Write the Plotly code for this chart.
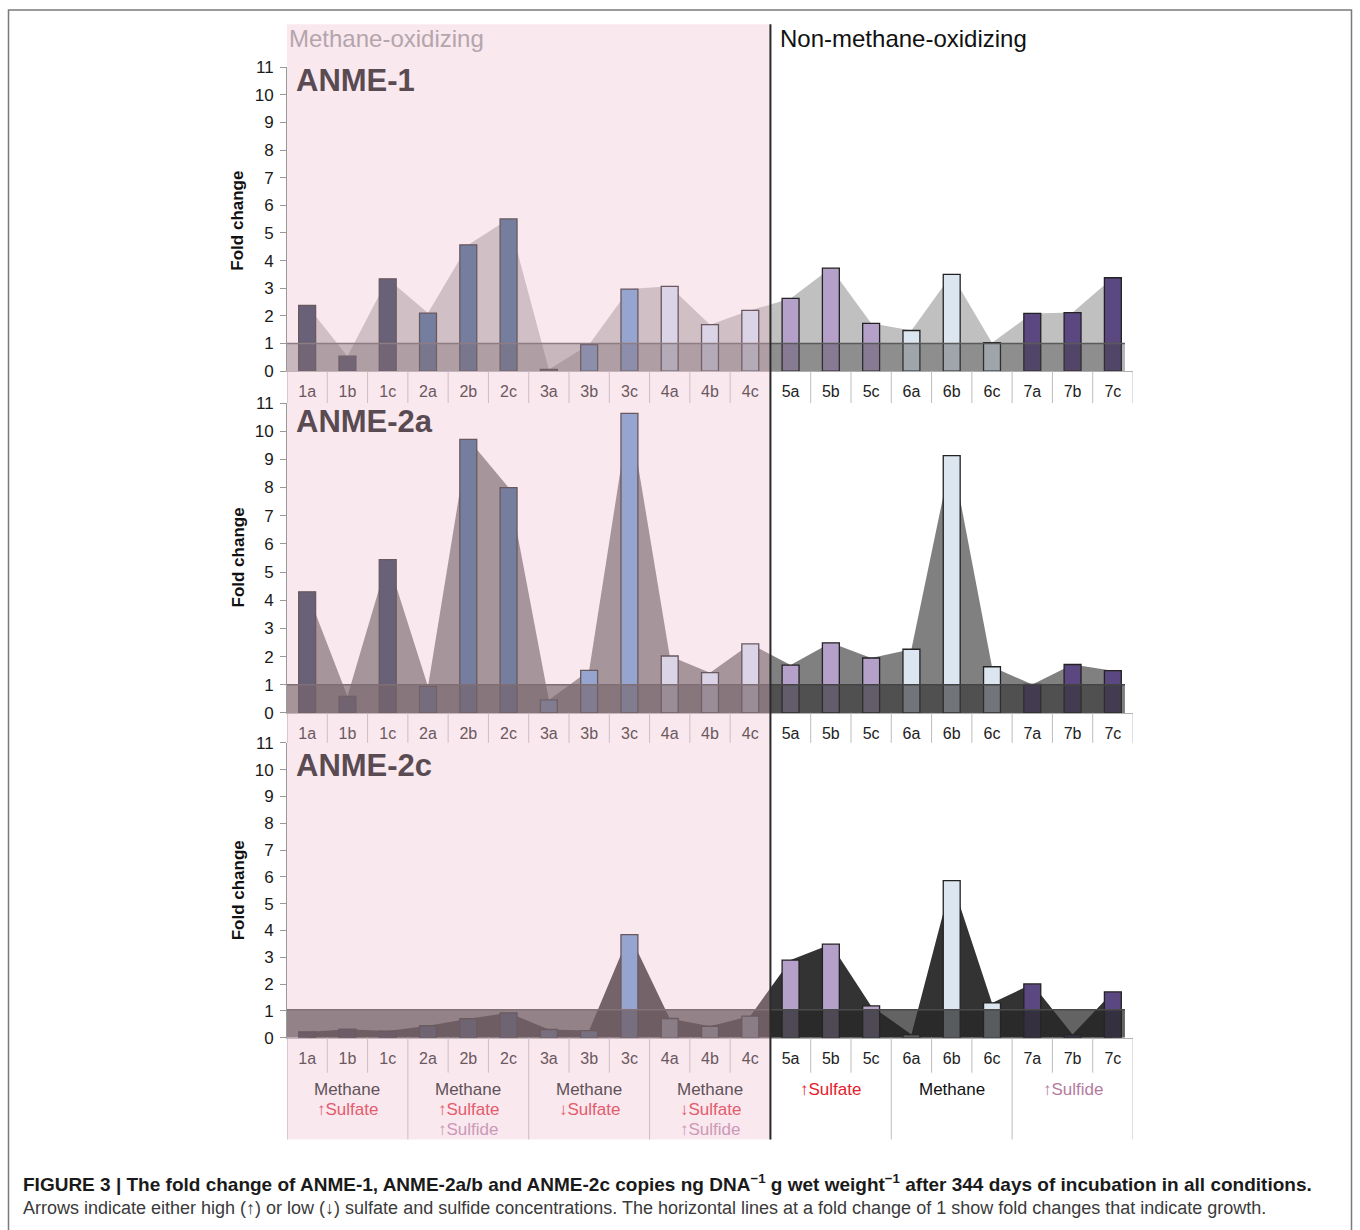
import plotly.graph_objects as go

W, H = 1360, 1230

# ---------------- data ----------------
categories = ["1a", "1b", "1c", "2a", "2b", "2c", "3a", "3b", "3c", "4a", "4b", "4c",
              "5a", "5b", "5c", "6a", "6b", "6c", "7a", "7b", "7c"]
anme1 = [2.38, 0.54, 3.34, 2.10, 4.57, 5.51, 0.06, 0.96, 2.97, 3.07, 1.68, 2.20,
         2.63, 3.73, 1.73, 1.47, 3.50, 1.03, 2.09, 2.12, 3.38]
anme2a = [4.30, 0.59, 5.44, 0.94, 9.71, 8.00, 0.46, 1.51, 10.63, 2.02, 1.43, 2.45,
          1.70, 2.49, 1.95, 2.26, 9.13, 1.64, 1.01, 1.72, 1.50]
anme2c = [0.22, 0.32, 0.25, 0.45, 0.71, 0.93, 0.31, 0.27, 3.85, 0.72, 0.43, 0.81,
          2.90, 3.49, 1.19, 0.12, 5.86, 1.30, 2.01, 0.12, 1.71]
panel_titles = ["ANME-1", "ANME-2a", "ANME-2c"]
growth_line = [1.0, 1.0, 1.05]
y_ticks = list(range(0, 12))
group_line1 = ["Methane", "Methane", "Methane", "Methane", "↑Sulfate", "Methane", "↑Sulfide"]
group_line2 = ["↑Sulfate", "↑Sulfate", "↓Sulfate", "↓Sulfate", "", "", ""]
group_line3 = ["", "↑Sulfide", "", "↑Sulfide", "", "", ""]
region_labels = ["Methane-oxidizing", "Non-methane-oxidizing"]
caption1 = ("FIGURE 3 | The fold change of ANME-1, ANME-2a/b and ANME-2c copies ng DNA<sup>−1</sup> "
            "g wet weight<sup>−1</sup> after 344 days of incubation in all conditions.")
caption2 = ("Arrows indicate either high (↑) or low (↓) sulfate and sulfide concentrations. "
            "The horizontal lines at a fold change of 1 show fold changes that indicate growth.")

# ---------------- styles ----------------
FONT = "Liberation Sans, Arial, sans-serif"
group_colors = ["#23314a", "#365c87", "#6798d1", "#cfe0f3", "#b4a0c8", "#dce6f0", "#5c4880"]
area_fill = ["#c0c0c0", "#808080", "#333333"]
band_fill = ["rgba(67,67,67,0.40)", "rgba(53,53,53,0.64)", "rgba(39,39,39,0.72)"]
band_line = ["#5a5a5a", "#444444", "#4a4a4a"]
overlay = "rgba(238,189,206,0.35)"
# layout geometry in target pixels: (top = value 11, bottom = value 0)
panel_px = [(66, 371), (403, 714), (744, 1040)]
label_row_px = [403, 744, 1075]
title_px = [79, 422, 767]
ytitle_px = [220, 558, 892]
x_left_px, x_right_px = 287, 1133


def px_x(p):
    return p / W


def px_y(p):
    # calibrated against the photographed page
    return 1 - ((p - 7.6) / 0.988) / H


series = [anme1, anme2a, anme2c]
bar_colors = [group_colors[int(c[0]) - 1] for c in categories]

fig = go.Figure()
shapes = []
annotations = []
n = len(categories)

for i, vals in enumerate(series):
    xa = "x" if i == 0 else f"x{i+1}"
    ya = "y" if i == 0 else f"y{i+1}"
    xb, yb = f"x{i+4}", f"y{i+4}"
    # area behind (base subplot)
    fig.add_trace(go.Scatter(x=categories, y=vals, mode="none", fill="tozeroy",
                             fillcolor=area_fill[i], xaxis=xa, yaxis=ya,
                             hoverinfo="skip", showlegend=False))
    # bars in front (overlaying subplot)
    fig.add_trace(go.Bar(x=categories, y=vals, width=0.42, xaxis=xb, yaxis=yb,
                         marker=dict(color=bar_colors, line=dict(color="#222222", width=1.3)),
                         hoverinfo="skip", showlegend=False))

    top, bot = panel_px[i]
    dom = [px_y(bot), px_y(top)]
    xdom = [px_x(x_left_px), px_x(x_right_px)]
    fig.layout[("xaxis" if i == 0 else f"xaxis{i+1}")] = dict(
        type="category", categoryorder="array", categoryarray=categories,
        range=[-0.5, n - 0.5], domain=xdom,
        anchor=ya, showline=True, linecolor="#b0b0b0", linewidth=1, ticks="",
        showgrid=False, zeroline=False, fixedrange=True,
        tickfont=dict(family=FONT, size=16, color="#222222"), ticklabelstandoff=6)
    fig.layout[("yaxis" if i == 0 else f"yaxis{i+1}")] = dict(
        range=[0, 11], domain=dom, anchor=xa, tickvals=y_ticks, ticks="outside",
        ticklen=6, tickcolor="#999999", showline=True, linecolor="#999999", linewidth=1,
        showgrid=False, zeroline=False, fixedrange=True,
        tickfont=dict(family=FONT, size=17, color="#1a1a1a"), ticklabelstandoff=3)
    fig.layout[f"xaxis{i+4}"] = dict(
        type="category", categoryorder="array", categoryarray=categories,
        range=[-0.5, n - 0.5], domain=xdom, overlaying=xa, anchor=yb,
        visible=False, fixedrange=True)
    fig.layout[f"yaxis{i+4}"] = dict(range=[0, 11], domain=dom, overlaying=ya, anchor=xb,
                                      visible=False, fixedrange=True)

    # growth band 0..1 and line
    shapes.append(dict(type="rect", xref=xa, yref=ya, x0=-0.5, x1=n - 0.7,
                       y0=0, y1=growth_line[i], fillcolor=band_fill[i], line=dict(width=0),
                       layer="above"))
    shapes.append(dict(type="line", xref=xa, yref=ya, x0=-0.5, x1=n - 0.7,
                       y0=growth_line[i], y1=growth_line[i],
                       line=dict(color=band_line[i], width=1.5), layer="above"))

    # category separators in the label row
    for k in range(n + 1):
        end_px = label_row_px[i]
        if i == 2 and k % 3 == 0:
            end_px = 1142
        shapes.append(dict(type="line", xref=xa, yref="paper", x0=k - 0.5, x1=k - 0.5,
                           y0=px_y(bot), y1=px_y(end_px),
                           line=dict(color="#999999" if k == 0 else "#bdbdbd", width=1),
                           layer="above"))

    # panel title
    annotations.append(dict(text=f"<b>{panel_titles[i]}</b>", xref="paper", yref="paper",
                            x=px_x(295), y=px_y(title_px[i]), xanchor="left", yanchor="middle",
                            showarrow=False, borderpad=0,
                            font=dict(family=FONT, size=31, color="#5a4b52")))
    # y title
    annotations.append(dict(text="<b>Fold change</b>", xref="paper", yref="paper",
                            x=px_x(238), y=px_y(ytitle_px[i]), textangle=-90,
                            xanchor="center", yanchor="middle", showarrow=False,
                            font=dict(family=FONT, size=17, color="#111111")))

# pink methane-oxidizing overlay
shapes.append(dict(type="rect", xref="x", yref="paper", x0=-0.5, x1=11.5,
                   y0=px_y(1142), y1=px_y(23), fillcolor=overlay, line=dict(width=0),
                   layer="above"))
# divider
shapes.append(dict(type="line", xref="x", yref="paper", x0=11.5, x1=11.5,
                   y0=px_y(1142), y1=px_y(23), line=dict(color="#2a2a2a", width=2),
                   layer="above"))
# frame
shapes.append(dict(type="rect", xref="paper", yref="paper", x0=px_x(8.5), x1=px_x(1351.5),
                   y0=-0.05, y1=px_y(8.5), line=dict(color="#7a7a7a", width=1.5),
                   fillcolor="rgba(0,0,0,0)", layer="above"))

# region labels
annotations.append(dict(text=region_labels[0], xref="paper", yref="paper", x=px_x(287),
                        y=px_y(37), xanchor="left", yanchor="middle", showarrow=False,
                        font=dict(family=FONT, size=24, color="#b4a5ac")))
annotations.append(dict(text=region_labels[1], xref="paper", yref="paper", x=px_x(778),
                        y=px_y(37), xanchor="left", yanchor="middle", showarrow=False,
                        font=dict(family=FONT, size=24, color="#111111")))


def word_color(word, pink):
    if "Sulfate" in word:
        return "#e55a6c" if pink else "#e4202a"
    if "Sulfide" in word:
        return "#cc98b8" if pink else "#b47ba0"
    return "#5f5259" if pink else "#111111"


for g in range(7):
    pink = g < 4
    for line_txt, ypx in ((group_line1[g], 1092), (group_line2[g], 1112), (group_line3[g], 1132)):
        if not line_txt:
            continue
        annotations.append(dict(text=line_txt, xref="x3", yref="paper", x=3 * g + 1,
                                y=px_y(ypx), xanchor="center", yanchor="middle",
                                showarrow=False,
                                font=dict(family=FONT, size=17, color=word_color(line_txt, pink))))

annotations.append(dict(text=f"<b>{caption1}</b>", xref="paper", yref="paper", x=px_x(21),
                        y=px_y(1186), xanchor="left", yanchor="middle", showarrow=False,
                        font=dict(family=FONT, size=19, color="#1a1a1a")))
annotations.append(dict(text=caption2, xref="paper", yref="paper", x=px_x(21),
                        y=px_y(1211), xanchor="left", yanchor="middle", showarrow=False,
                        font=dict(family=FONT, size=18, color="#3a3a3a")))

fig.update_layout(width=W, height=H, margin=dict(l=0, r=0, t=0, b=0),
                  paper_bgcolor="white", plot_bgcolor="rgba(0,0,0,0)",
                  shapes=shapes, annotations=annotations,
                  showlegend=False, font=dict(family=FONT))

fig.write_html("out.html", config={"displayModeBar": False, "staticPlot": True},
               post_script="document.body.style.margin='0';document.body.style.overflow='hidden';")
